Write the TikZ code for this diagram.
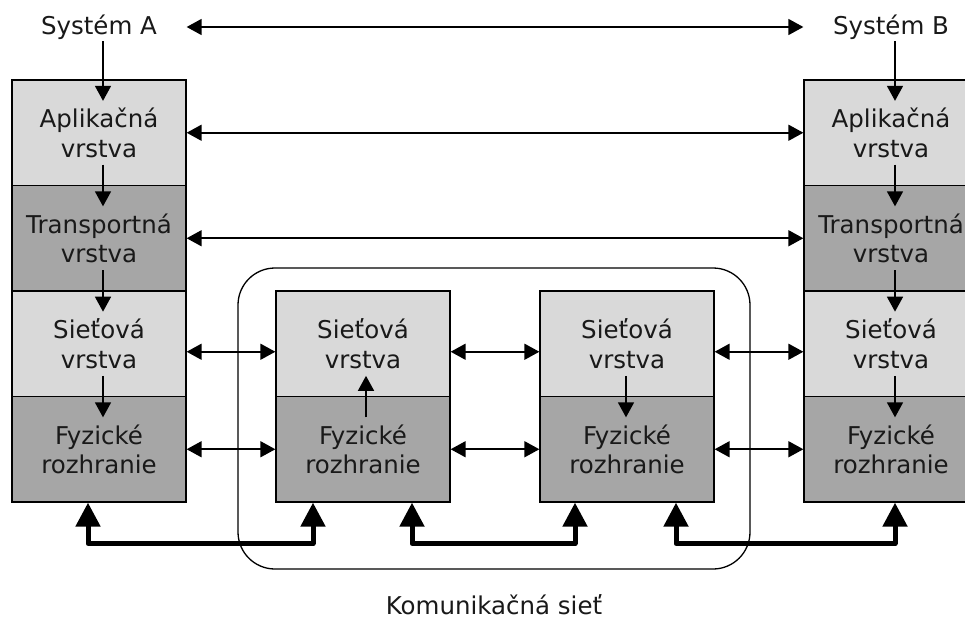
\documentclass[tikz,border=0pt]{standalone}
\usepackage{fontspec}
\setmainfont{DejaVu Sans}
\usetikzlibrary{arrows.meta}

\definecolor{layerlight}{HTML}{D9D9D9}
\definecolor{layerdark}{HTML}{A6A6A6}

\tikzset{
  cell/.style={draw=black, line width=1.3pt, minimum width=174pt, minimum height=105.5pt, inner sep=0pt},
  light/.style={fill=layerlight},
  dark/.style={fill=layerdark},
  lbl/.style={align=center, inner sep=7pt, text=black!90},
  syslbl/.style={inner sep=1.5pt, text=black!90},
  flow/.style={line width=1.6pt, -{Triangle[length=15pt,width=16pt]}},
  peer/.style={line width=1.6pt, {Triangle[length=15pt,width=16pt]}-{Triangle[length=15pt,width=16pt]}},
  bus/.style={line width=5pt, line join=round, {Triangle[length=24pt,width=24pt]}-{Triangle[length=24pt,width=24pt]}},
  cloud/.style={draw, line width=1.3pt, rounded corners=37pt, minimum width=512pt, minimum height=301pt, inner sep=0pt}
}

% one protocol layer: box (#1) with its caption (#1t)
\newcommand{\osilayer}[5]{%
  \node[cell,#4] (#1) at (#2,#3) {};
  \node[lbl] (#1t) at (#1) {#5};}

\begin{document}
\begin{tikzpicture}[x=1pt, y=-1pt, font=\fontsize{24.5}{29.5}\selectfont]
\clip (0,0) rectangle (965,621);
\useasboundingbox (0,0) rectangle (965,621);

% communication network outline
\node[cloud] (net) at (494,418.5) {};
\node[anchor=base, inner sep=0pt, text=black!90] (netlbl) at ([yshift=-45pt]net.south) {Komunikačná sieť};

% end systems
\node[syslbl] (sA) at (99,27) {Systém A};
\node[syslbl] (sB) at (891,27) {Systém B};

% system A stack
\osilayer{L1}{99}{132.75}{light}{Aplikačná\\vrstva}
\osilayer{L2}{99}{238.25}{dark}{Transportná\\vrstva}
\osilayer{L3}{99}{343.75}{light}{Sieťová\\vrstva}
\osilayer{L4}{99}{449.25}{dark}{Fyzické\\rozhranie}

% intermediate nodes
\osilayer{M3}{363}{343.75}{light}{Sieťová\\vrstva}
\osilayer{M4}{363}{449.25}{dark}{Fyzické\\rozhranie}
\osilayer{N3}{627}{343.75}{light}{Sieťová\\vrstva}
\osilayer{N4}{627}{449.25}{dark}{Fyzické\\rozhranie}

% system B stack
\osilayer{R1}{891}{132.75}{light}{Aplikačná\\vrstva}
\osilayer{R2}{891}{238.25}{dark}{Transportná\\vrstva}
\osilayer{R3}{891}{343.75}{light}{Sieťová\\vrstva}
\osilayer{R4}{891}{449.25}{dark}{Fyzické\\rozhranie}

% vertical flow through the stacks
\draw[flow] ([xshift=4pt]sA.south) -- ([xshift=4pt]L1t.north);
\draw[flow] ([xshift=4pt]L1t.south) -- ([xshift=4pt]L2t.north);
\draw[flow] ([xshift=4pt]L2t.south) -- ([xshift=4pt]L3t.north);
\draw[flow] ([xshift=4pt]L3t.south) -- ([xshift=4pt]L4t.north);

\draw[flow] ([xshift=4pt]sB.south) -- ([xshift=4pt]R1t.north);
\draw[flow] ([xshift=4pt]R1t.south) -- ([xshift=4pt]R2t.north);
\draw[flow] ([xshift=4pt]R2t.south) -- ([xshift=4pt]R3t.north);
\draw[flow] ([xshift=4pt]R3t.south) -- ([xshift=4pt]R4t.north);

\draw[flow] ([xshift=3pt]M4t.north) -- ([xshift=3pt]M3t.south);
\draw[flow] ([xshift=-1pt]N3t.south) -- ([xshift=-1pt]N4t.north);

% peer-to-peer relations
\draw[peer] (sA -| L1.east) -- (sB -| R1.west);
\draw[peer] (L1.east) -- (R1.west);
\draw[peer] (L2.east) -- (R2.west);

\draw[peer] ([yshift=-8pt]L3.east) -- ([yshift=-8pt]M3.west);
\draw[peer] ([yshift=-8pt]M3.east) -- ([yshift=-8pt]N3.west);
\draw[peer] ([yshift=-8pt]N3.east) -- ([yshift=-8pt]R3.west);

\draw[peer] (L4.east) -- (M4.west);
\draw[peer] (M4.east) -- (N4.west);
\draw[peer] (N4.east) -- (R4.west);

% physical links
\draw[bus] ([xshift=-11pt]L4.south) -- ++(0,41) -| ([xshift=-50pt]M4.south);
\draw[bus] ([xshift=49pt]M4.south) -- ++(0,41) -| ([xshift=-52pt]N4.south);
\draw[bus] ([xshift=49pt]N4.south) -- ++(0,41) -| ([xshift=4pt]R4.south);
\end{tikzpicture}
\end{document}
